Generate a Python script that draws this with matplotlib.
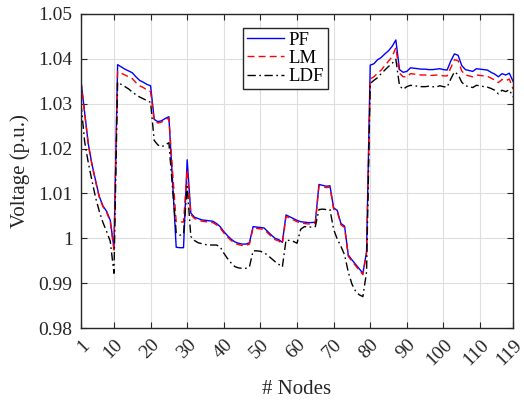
import matplotlib
matplotlib.use('Agg')
import matplotlib.pyplot as plt
import numpy as np

# node voltages (p.u.), nodes 1..119
pf = [1.0350, 1.0280, 1.0210, 1.0165, 1.0128, 1.0093, 1.0072, 1.0060, 1.0040, 0.9978,
      1.0387, 1.0382, 1.0377, 1.0373, 1.0369, 1.0360, 1.0352, 1.0348, 1.0343, 1.0340,
      1.0265, 1.0260, 1.0262, 1.0267, 1.0271, 1.0128, 0.9980, 0.9979, 0.9979, 1.0175,
      1.0056, 1.0047, 1.0044, 1.0041, 1.0040, 1.0039, 1.0038, 1.0033, 1.0026, 1.0015,
      1.0006, 0.9998, 0.9992, 0.9989, 0.9987, 0.9987, 0.9990, 1.0026, 1.0025, 1.0024,
      1.0023, 1.0015, 1.0007, 1.0000, 0.9997, 0.9991, 1.0052, 1.0048, 1.0044, 1.0040,
      1.0037, 1.0036, 1.0035, 1.0035, 1.0036, 1.0120, 1.0118, 1.0116, 1.0117, 1.0068,
      1.0062, 1.0033, 1.0027, 0.9963, 0.9952, 0.9942, 0.9932, 0.9922, 0.9970, 1.0386,
      1.0389, 1.0398, 1.0403, 1.0411, 1.0418, 1.0428, 1.0442, 1.0376, 1.0370, 1.0372,
      1.0380, 1.0379, 1.0378, 1.0377, 1.0377, 1.0376, 1.0376, 1.0377, 1.0378, 1.0376,
      1.0375, 1.0395, 1.0411, 1.0408, 1.0385, 1.0376, 1.0374, 1.0372, 1.0378, 1.0377,
      1.0376, 1.0375, 1.0370, 1.0366, 1.0360, 1.0367, 1.0364, 1.0368, 1.0350]

lm = [1.0349, 1.0278, 1.0208, 1.0163, 1.0126, 1.0091, 1.0070, 1.0058, 1.0036, 0.9974,
      1.0372, 1.0368, 1.0364, 1.0360, 1.0356, 1.0347, 1.0340, 1.0336, 1.0331, 1.0327,
      1.0262, 1.0257, 1.0259, 1.0264, 1.0268, 1.0150, 1.0037, 1.0037, 1.0036, 1.0152,
      1.0053, 1.0044, 1.0041, 1.0038, 1.0037, 1.0036, 1.0035, 1.0030, 1.0023, 1.0012,
      1.0003, 0.9995, 0.9989, 0.9986, 0.9984, 0.9984, 0.9987, 1.0023, 1.0022, 1.0021,
      1.0020, 1.0012, 1.0004, 0.9997, 0.9994, 0.9988, 1.0049, 1.0045, 1.0041, 1.0037,
      1.0034, 1.0033, 1.0032, 1.0032, 1.0033, 1.0117, 1.0115, 1.0113, 1.0114, 1.0065,
      1.0059, 1.0030, 1.0024, 0.9960, 0.9949, 0.9939, 0.9929, 0.9919, 0.9967, 1.0355,
      1.0360, 1.0368, 1.0375, 1.0385, 1.0395, 1.0405, 1.0425, 1.0368, 1.0360, 1.0360,
      1.0367, 1.0366, 1.0365, 1.0364, 1.0364, 1.0363, 1.0363, 1.0364, 1.0364, 1.0362,
      1.0362, 1.0380, 1.0398, 1.0396, 1.0373, 1.0364, 1.0362, 1.0360, 1.0364, 1.0363,
      1.0362, 1.0361, 1.0357, 1.0353, 1.0347, 1.0354, 1.0351, 1.0355, 1.0333]

ldf = [1.0300, 1.0215, 1.0168, 1.0128, 1.0090, 1.0060, 1.0035, 1.0015, 0.9993, 0.9922,
       1.0348, 1.0343, 1.0338, 1.0333, 1.0326, 1.0320, 1.0315, 1.0311, 1.0307, 1.0303,
       1.0218, 1.0208, 1.0204, 1.0208, 1.0213, 1.0112, 1.0013, 1.0007, 1.0009, 1.0115,
       1.0004, 0.9995, 0.9990, 0.9988, 0.9986, 0.9985, 0.9985, 0.9985, 0.9981, 0.9967,
       0.9955, 0.9945, 0.9937, 0.9934, 0.9933, 0.9933, 0.9936, 0.9972, 0.9972, 0.9971,
       0.9968, 0.9962, 0.9955, 0.9948, 0.9942, 0.9936, 0.9996, 0.9995, 0.9993, 0.9989,
       1.0020, 1.0026, 1.0025, 1.0025, 1.0026, 1.0064, 1.0065, 1.0064, 1.0064, 1.0020,
       0.9998, 0.9982, 0.9963, 0.9925, 0.9898, 0.9882, 0.9874, 0.9870, 0.9925, 1.0345,
       1.0352, 1.0358, 1.0367, 1.0375, 1.0383, 1.0390, 1.0399, 1.0340, 1.0332, 1.0338,
       1.0341, 1.0340, 1.0339, 1.0338, 1.0338, 1.0339, 1.0338, 1.0337, 1.0340, 1.0338,
       1.0337, 1.0355, 1.0371, 1.0365, 1.0348, 1.0340, 1.0338, 1.0336, 1.0341, 1.0340,
       1.0338, 1.0337, 1.0334, 1.0330, 1.0322, 1.0330, 1.0327, 1.0331, 1.0315]

nodes = np.arange(1, len(pf) + 1)
xticks = [1, 10, 20, 30, 40, 50, 60, 70, 80, 90, 100, 110, 119]
yticks = [0.98, 0.99, 1.00, 1.01, 1.02, 1.03, 1.04, 1.05]
ytick_labels = ['0.98', '0.99', '1', '1.01', '1.02', '1.03', '1.04', '1.05']

plt.rcParams['font.family'] = ['Liberation Serif', 'DejaVu Serif']

fig = plt.figure(figsize=(5.24, 4.03), dpi=100)
ax = fig.add_axes([0.1546, 0.1861, 0.8244, 0.7792])

ax.plot(nodes, pf, color='#0000ff', lw=1.0, ls='-', label='PF')
ax.plot(nodes, lm, color='#ff0000', lw=1.0, ls=(0, (5, 3)), label='LM')
ax.plot(nodes, ldf, color='black', lw=1.0, ls=(0, (6, 2.5, 1.2, 2.5)), label='LDF')

ax.set_xlim(1, 119)
ax.set_ylim(0.98, 1.05)
ax.set_xticks(xticks)
ax.set_xticklabels([str(t) for t in xticks], rotation=45, ha='right', va='top',
                   rotation_mode='anchor')
ax.set_yticks(yticks)
ax.set_yticklabels(ytick_labels)
ax.tick_params(direction='in', top=True, right=True, labelsize=14, length=4,
               width=0.8, colors='#262626', pad=6)
ax.grid(True, color='#dedede', lw=0.8)
ax.set_axisbelow(True)
for s in ax.spines.values():
    s.set_color('#262626')
    s.set_linewidth(1.0)

ax.set_xlabel('# Nodes', fontsize=15, color='#262626', labelpad=8)
ax.set_ylabel('Voltage (p.u.)', fontsize=15, color='#262626', labelpad=6)

leg = ax.legend(loc='upper left', bbox_to_anchor=(0.375, 0.955), fontsize=13.5,
                fancybox=False, framealpha=1, edgecolor='#262626',
                handlelength=2.0, handletextpad=0.25, borderpad=0.2,
                labelspacing=0.05, borderaxespad=0)
leg.get_frame().set_linewidth(1.0)

fig.savefig('out.png', dpi=100)
